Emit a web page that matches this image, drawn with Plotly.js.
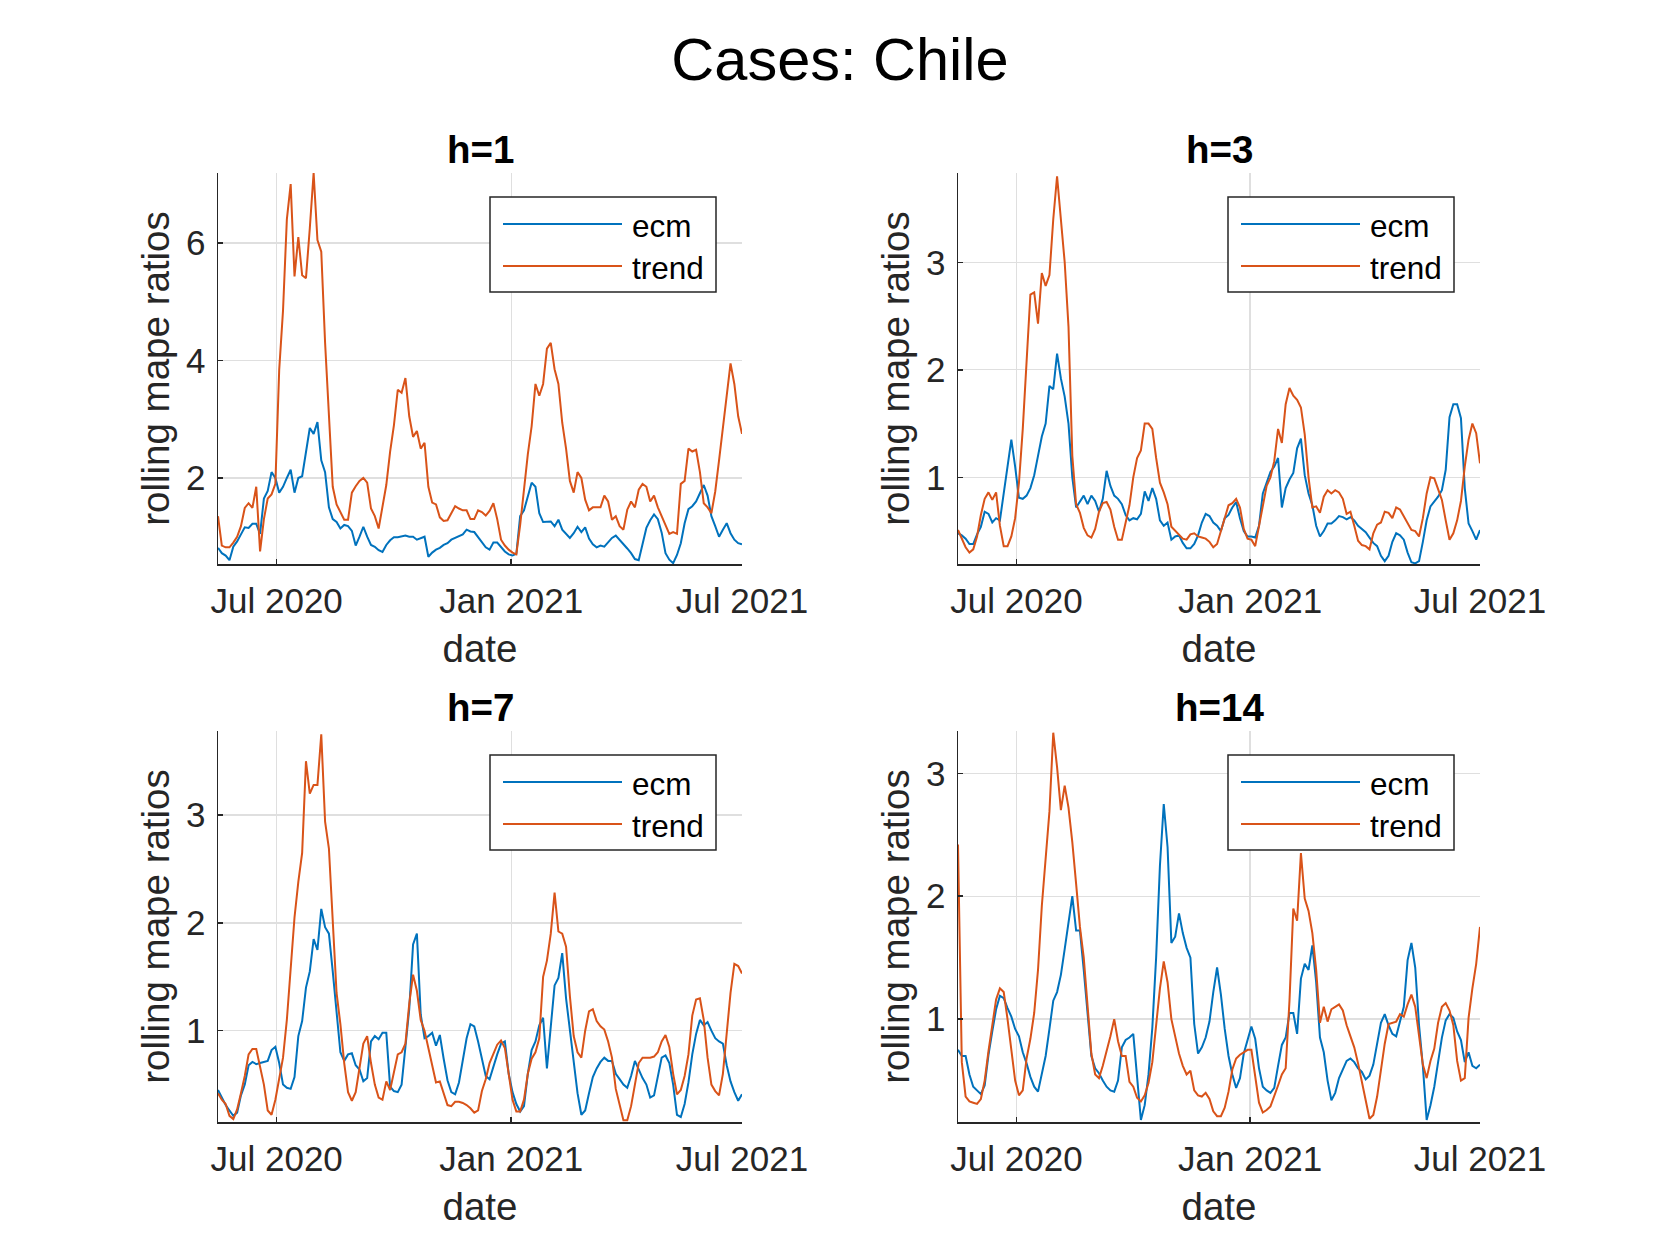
<!DOCTYPE html>
<html>
<head>
<meta charset="utf-8">
<script src="https://cdn.plot.ly/plotly-3.0.1.min.js"></script>
<style>
  html, body { margin: 0; padding: 0; background: #fff; }
  #chart { width: 1680px; height: 1260px; }
</style>
</head>
<body>
<div id="chart"></div>
<script>
// rolling mape ratios, one value every 3 days from 16 May 2020
const horizons = ['h=1', 'h=3', 'h=7', 'h=14'];
const seriesNames = ['ecm', 'trend'];
const dateTicks = ['2020-07-01', '2021-01-01', '2021-07-01'];
const dateTickLabels = ['Jul 2020', 'Jan 2021', 'Jul 2021'];

const ecm1 = [
  0.81, 0.72, 0.68, 0.60, 0.83, 0.92, 1.04, 1.16, 1.15, 1.22,
  1.22, 1.05, 1.65, 1.78, 2.10, 2.00, 1.75, 1.85, 2.00, 2.14,
  1.75, 2.00, 2.03, 2.48, 2.85, 2.75, 2.95, 2.30, 2.10, 1.50,
  1.30, 1.25, 1.14, 1.20, 1.18, 1.10, 0.85, 1.00, 1.17, 1.00,
  0.86, 0.83, 0.77, 0.74, 0.86, 0.94, 0.99, 0.99, 1.00, 1.02,
  1.00, 1.00, 0.95, 0.98, 1.00, 0.66, 0.73, 0.78, 0.81, 0.86,
  0.89, 0.95, 0.98, 1.00, 1.04, 1.12, 1.09, 1.08, 0.99, 0.92,
  0.82, 0.78, 0.90, 0.90, 0.82, 0.75, 0.70, 0.68, 0.71, 1.35,
  1.45, 1.70, 1.92, 1.85, 1.40, 1.25, 1.26, 1.26, 1.18, 1.29,
  1.12, 1.04, 0.98, 1.06, 1.17, 1.08, 1.16, 0.97, 0.87, 0.82,
  0.85, 0.83, 0.90, 0.98, 1.02, 0.95, 0.88, 0.80, 0.72, 0.62,
  0.60, 0.85, 1.15, 1.28, 1.38, 1.30, 1.07, 0.72, 0.61, 0.55,
  0.69, 0.89, 1.23, 1.47, 1.52, 1.60, 1.75, 1.88, 1.70, 1.35,
  1.18, 1.00, 1.12, 1.23, 1.06, 0.95, 0.89, 0.87
];
const trend1 = [
  1.35, 0.85, 0.82, 0.82, 0.90, 1.00, 1.18, 1.49, 1.57, 1.49,
  1.85, 0.75, 1.30, 1.65, 1.72, 1.90, 3.84, 4.85, 6.40, 7.00,
  5.43, 6.10, 5.45, 5.40, 6.25, 7.19, 6.05, 5.85, 4.30, 3.00,
  1.85, 1.55, 1.42, 1.29, 1.29, 1.75, 1.86, 1.95, 2.00, 1.92,
  1.48, 1.35, 1.14, 1.49, 1.88, 2.45, 2.90, 3.50, 3.45, 3.70,
  3.05, 2.70, 2.80, 2.50, 2.60, 1.85, 1.58, 1.55, 1.33, 1.27,
  1.28, 1.40, 1.52, 1.48, 1.45, 1.45, 1.30, 1.30, 1.45, 1.42,
  1.36, 1.44, 1.57, 1.30, 0.95, 0.85, 0.78, 0.73, 0.70, 1.20,
  1.85, 2.40, 2.88, 3.60, 3.40, 3.60, 4.20, 4.30, 3.85, 3.60,
  2.94, 2.50, 1.95, 1.75, 2.10, 2.00, 1.63, 1.45, 1.50, 1.50,
  1.50, 1.70, 1.60, 1.29, 1.35, 1.18, 1.12, 1.46, 1.60, 1.50,
  1.80, 1.90, 1.85, 1.60, 1.70, 1.50, 1.35, 1.20, 1.05, 1.08,
  1.05, 1.90, 1.95, 2.50, 2.45, 2.48, 2.10, 1.57, 1.50, 1.40,
  1.77, 2.30, 2.85, 3.40, 3.95, 3.60, 3.05, 2.75
];
const ecm3 = [
  0.48, 0.46, 0.43, 0.38, 0.38, 0.47, 0.54, 0.68, 0.66, 0.58,
  0.62, 0.60, 0.85, 1.08, 1.35, 1.10, 0.81, 0.80, 0.83, 0.90,
  1.02, 1.20, 1.38, 1.50, 1.85, 1.82, 2.15, 1.92, 1.75, 1.50,
  1.00, 0.72, 0.78, 0.83, 0.75, 0.83, 0.78, 0.68, 0.80, 1.06,
  0.92, 0.83, 0.80, 0.75, 0.65, 0.60, 0.62, 0.61, 0.66, 0.87,
  0.78, 0.90, 0.80, 0.60, 0.55, 0.58, 0.42, 0.45, 0.46, 0.39,
  0.34, 0.34, 0.38, 0.46, 0.58, 0.66, 0.64, 0.58, 0.55, 0.50,
  0.62, 0.65, 0.72, 0.77, 0.62, 0.50, 0.45, 0.45, 0.44, 0.55,
  0.85, 0.96, 1.05, 1.10, 1.18, 0.72, 0.90, 0.98, 1.04, 1.27,
  1.36, 1.02, 0.85, 0.74, 0.55, 0.45, 0.50, 0.57, 0.57, 0.60,
  0.64, 0.63, 0.61, 0.63, 0.60, 0.55, 0.52, 0.49, 0.44, 0.39,
  0.36, 0.27, 0.22, 0.27, 0.40, 0.48, 0.46, 0.42, 0.30, 0.21,
  0.20, 0.22, 0.40, 0.60, 0.73, 0.77, 0.82, 0.88, 1.07, 1.56,
  1.68, 1.68, 1.55, 0.90, 0.57, 0.50, 0.42, 0.51
];
const trend3 = [
  0.51, 0.43, 0.35, 0.30, 0.33, 0.45, 0.65, 0.80, 0.86, 0.79,
  0.86, 0.55, 0.36, 0.36, 0.45, 0.62, 0.95, 1.45, 2.05, 2.70,
  2.72, 2.43, 2.90, 2.78, 2.88, 3.40, 3.80, 3.40, 3.00, 2.40,
  1.20, 0.75, 0.67, 0.53, 0.46, 0.44, 0.52, 0.68, 0.76, 0.77,
  0.70, 0.54, 0.42, 0.42, 0.57, 0.74, 1.00, 1.18, 1.25, 1.50,
  1.50, 1.45, 1.18, 0.95, 0.86, 0.75, 0.54, 0.50, 0.47, 0.43,
  0.42, 0.47, 0.48, 0.45, 0.44, 0.43, 0.40, 0.35, 0.38, 0.50,
  0.61, 0.74, 0.76, 0.80, 0.72, 0.52, 0.43, 0.42, 0.36, 0.54,
  0.72, 0.92, 1.00, 1.15, 1.45, 1.32, 1.68, 1.83, 1.76, 1.72,
  1.65, 1.40, 1.00, 0.72, 0.73, 0.67, 0.82, 0.88, 0.85, 0.88,
  0.86, 0.80, 0.66, 0.68, 0.55, 0.41, 0.37, 0.36, 0.33, 0.48,
  0.56, 0.58, 0.68, 0.67, 0.62, 0.72, 0.70, 0.64, 0.58, 0.51,
  0.50, 0.45, 0.62, 0.85, 1.00, 0.99, 0.89, 0.79, 0.60, 0.42,
  0.48, 0.60, 0.78, 1.10, 1.35, 1.50, 1.41, 1.13
];
const ecm7 = [
  0.45, 0.38, 0.31, 0.26, 0.21, 0.24, 0.40, 0.50, 0.68, 0.71,
  0.69, 0.70, 0.71, 0.72, 0.82, 0.85, 0.70, 0.50, 0.47, 0.46,
  0.57, 0.95, 1.09, 1.40, 1.55, 1.85, 1.75, 2.13, 1.96, 1.90,
  1.55, 1.16, 0.80, 0.72, 0.78, 0.79, 0.68, 0.64, 0.53, 0.56,
  0.90, 0.95, 0.92, 0.98, 0.98, 0.48, 0.44, 0.43, 0.50, 0.85,
  1.20, 1.80, 1.90, 1.15, 0.93, 0.95, 0.98, 0.86, 0.96, 0.74,
  0.54, 0.43, 0.41, 0.52, 0.74, 0.93, 1.06, 1.04, 0.90, 0.75,
  0.58, 0.55, 0.67, 0.78, 0.88, 0.90, 0.60, 0.43, 0.32, 0.25,
  0.30, 0.60, 0.82, 0.90, 1.05, 1.12, 0.65, 1.05, 1.42, 1.49,
  1.72, 1.30, 1.00, 0.72, 0.42, 0.22, 0.26, 0.42, 0.57, 0.65,
  0.71, 0.75, 0.72, 0.72, 0.60, 0.55, 0.50, 0.47, 0.58, 0.72,
  0.64, 0.56, 0.50, 0.38, 0.40, 0.58, 0.75, 0.77, 0.70, 0.50,
  0.22, 0.20, 0.32, 0.52, 0.78, 0.97, 1.10, 1.05, 1.08, 1.00,
  0.93, 0.90, 0.88, 0.68, 0.53, 0.43, 0.35, 0.41
];
const trend7 = [
  0.42, 0.36, 0.32, 0.21, 0.18, 0.27, 0.42, 0.58, 0.78, 0.83,
  0.83, 0.68, 0.50, 0.26, 0.22, 0.36, 0.55, 0.75, 1.10, 1.60,
  2.05, 2.38, 2.65, 3.50, 3.20, 3.28, 3.28, 3.75, 2.94, 2.69,
  1.95, 1.35, 1.06, 0.70, 0.43, 0.35, 0.43, 0.66, 0.88, 0.95,
  0.70, 0.50, 0.38, 0.36, 0.53, 0.45, 0.60, 0.78, 0.80, 0.88,
  1.25, 1.52, 1.37, 1.10, 1.00, 0.85, 0.68, 0.52, 0.53, 0.43,
  0.31, 0.30, 0.34, 0.34, 0.33, 0.31, 0.28, 0.24, 0.26, 0.44,
  0.55, 0.70, 0.79, 0.87, 0.91, 0.84, 0.60, 0.36, 0.25, 0.25,
  0.36, 0.60, 0.74, 0.80, 0.93, 1.50, 1.65, 1.90, 2.28, 1.92,
  1.90, 1.78, 1.32, 0.95, 0.80, 0.75, 1.00, 1.18, 1.20, 1.09,
  1.04, 1.01, 0.90, 0.75, 0.46, 0.30, 0.17, 0.17, 0.30, 0.50,
  0.70, 0.75, 0.75, 0.75, 0.76, 0.80, 0.90, 0.96, 0.85, 0.60,
  0.41, 0.45, 0.58, 0.78, 1.14, 1.29, 1.30, 1.10, 0.75, 0.50,
  0.44, 0.40, 0.60, 0.98, 1.35, 1.62, 1.60, 1.53
];
const ecm14 = [
  0.75, 0.70, 0.70, 0.55, 0.45, 0.42, 0.39, 0.46, 0.71, 0.90,
  1.08, 1.19, 1.17, 1.09, 1.02, 0.92, 0.86, 0.73, 0.64, 0.53,
  0.45, 0.41, 0.55, 0.70, 0.92, 1.15, 1.22, 1.36, 1.57, 1.80,
  2.00, 1.72, 1.72, 1.40, 1.05, 0.70, 0.60, 0.56, 0.50, 0.45,
  0.42, 0.41, 0.50, 0.77, 0.83, 0.85, 0.88, 0.50, 0.18, 0.30,
  0.55, 0.93, 1.50, 2.25, 2.75, 2.40, 1.62, 1.67, 1.86, 1.70,
  1.58, 1.50, 0.96, 0.72, 0.77, 0.85, 0.98, 1.22, 1.42, 1.20,
  0.92, 0.70, 0.55, 0.44, 0.52, 0.72, 0.84, 0.94, 0.84, 0.60,
  0.45, 0.42, 0.40, 0.44, 0.62, 0.79, 0.85, 1.05, 1.05, 0.88,
  1.33, 1.45, 1.40, 1.60, 1.30, 0.85, 0.73, 0.50, 0.34, 0.40,
  0.52, 0.59, 0.66, 0.68, 0.65, 0.60, 0.57, 0.51, 0.54, 0.63,
  0.80, 0.97, 1.04, 0.95, 0.88, 0.86, 0.98, 1.10, 1.48, 1.62,
  1.42, 0.95, 0.62, 0.18, 0.30, 0.45, 0.65, 0.85, 0.99, 1.04,
  1.01, 0.90, 0.83, 0.65, 0.73, 0.62, 0.60, 0.63
];
const trend14 = [
  2.42, 0.65, 0.37, 0.33, 0.32, 0.31, 0.35, 0.50, 0.74, 0.95,
  1.16, 1.25, 1.22, 1.00, 0.75, 0.50, 0.38, 0.42, 0.68, 0.84,
  1.05, 1.40, 1.92, 2.34, 2.69, 3.33, 3.05, 2.70, 2.90, 2.72,
  2.44, 2.10, 1.75, 1.50, 1.10, 0.72, 0.55, 0.52, 0.62, 0.73,
  0.86, 1.00, 0.82, 0.70, 0.70, 0.49, 0.45, 0.36, 0.33, 0.38,
  0.48, 0.65, 0.95, 1.25, 1.47, 1.30, 1.00, 0.85, 0.72, 0.62,
  0.55, 0.58, 0.42, 0.38, 0.37, 0.40, 0.35, 0.25, 0.21, 0.21,
  0.28, 0.41, 0.59, 0.68, 0.71, 0.73, 0.75, 0.75, 0.55, 0.32,
  0.24, 0.26, 0.29, 0.37, 0.46, 0.55, 0.60, 1.15, 1.90, 1.80,
  2.35, 1.98, 1.88, 1.70, 1.40, 0.97, 1.10, 0.98, 1.08, 1.10,
  1.12, 1.07, 0.95, 0.86, 0.77, 0.64, 0.50, 0.34, 0.19, 0.22,
  0.37, 0.60, 0.80, 0.96, 0.97, 0.98, 1.04, 1.02, 1.12, 1.20,
  1.10, 0.85, 0.63, 0.52, 0.66, 0.76, 0.97, 1.10, 1.13, 1.07,
  0.95, 0.66, 0.50, 0.52, 1.01, 1.25, 1.45, 1.75
];

const ecmSeries = [ecm1, ecm3, ecm7, ecm14];
const trendSeries = [trend1, trend3, trend7, trend14];

// daily-spaced dates, every third day
const startDay = Date.UTC(2020, 4, 16);
const dates = ecm1.map((_, i) =>
  new Date(startDay + i * 3 * 86400000).toISOString().slice(0, 10));

const W = 1680, H = 1260;
const px = x => x / W;
const py = y => 1 - y / H;
const FONT = '"Liberation Sans", Arial, Helvetica, sans-serif';
const ECM_COLOR = '#0072BD';
const TREND_COLOR = '#D95319';
const AX_COLOR = '#262626';

// axes boxes in pixels: left, top, right, bottom
const boxes = [
  [218, 173, 742, 564],
  [958, 173, 1480, 564],
  [218, 731, 742, 1122],
  [958, 731, 1480, 1122]
];
const yRanges = [[0.536, 7.19], [0.194, 3.83], [0.153, 3.78], [0.163, 3.344]];
const yTicks = [[2, 4, 6], [1, 2, 3], [1, 2, 3], [1, 2, 3]];

const data = [];
const layout = {
  width: W,
  height: H,
  margin: { l: 0, r: 0, t: 0, b: 0 },
  paper_bgcolor: '#fff',
  plot_bgcolor: '#fff',
  font: { family: FONT, color: AX_COLOR },
  showlegend: false,
  title: {
    text: 'Cases: Chile',
    font: { family: FONT, size: 59.5, color: '#000' },
    x: 0.5, xanchor: 'center',
    y: py(59), yanchor: 'middle',
    xref: 'paper', yref: 'paper'
  },
  annotations: [],
  shapes: []
};

const axisCommon = {
  showline: true,
  linecolor: AX_COLOR,
  linewidth: 1.5,
  mirror: false,
  ticks: 'inside',
  ticklen: 5,
  tickwidth: 1.5,
  tickcolor: AX_COLOR,
  showgrid: true,
  gridcolor: '#dfdfdf',
  gridwidth: 1.3,
  zeroline: false,
  automargin: false,
  fixedrange: true,
  tickfont: { family: FONT, size: 35, color: AX_COLOR }
};

horizons.forEach((h, i) => {
  const suffix = i === 0 ? '' : String(i + 1);
  const [l, t, r, b] = boxes[i];

  data.push({
    x: dates, y: ecmSeries[i], type: 'scatter', mode: 'lines', name: seriesNames[0],
    xaxis: 'x' + suffix, yaxis: 'y' + suffix,
    line: { color: ECM_COLOR, width: 2 }
  });
  data.push({
    x: dates, y: trendSeries[i], type: 'scatter', mode: 'lines', name: seriesNames[1],
    xaxis: 'x' + suffix, yaxis: 'y' + suffix,
    line: { color: TREND_COLOR, width: 2 }
  });

  layout['xaxis' + suffix] = Object.assign({}, axisCommon, {
    type: 'date',
    domain: [px(l), px(r)],
    anchor: 'y' + suffix,
    range: ['2020-05-16', '2021-07-01'],
    tickvals: dateTicks,
    ticktext: dateTickLabels,
    ticklabelstandoff: 5,
    title: { text: 'date', font: { family: FONT, size: 38.5, color: AX_COLOR }, standoff: 16 }
  });
  layout['yaxis' + suffix] = Object.assign({}, axisCommon, {
    domain: [py(b), py(t)],
    anchor: 'x' + suffix,
    range: yRanges[i],
    tickvals: yTicks[i],
    ticklabelstandoff: 4,
    title: { text: 'rolling mape ratios', font: { family: FONT, size: 38.5, color: AX_COLOR }, standoff: 4 }
  });

  // subplot title
  layout.annotations.push({
    text: '<b>' + h + '</b>',
    xref: 'paper', yref: 'paper',
    x: px((l + r) / 2), y: py(t - 24),
    xanchor: 'center', yanchor: 'middle',
    showarrow: false,
    font: { family: FONT, size: 38.5, color: '#000' }
  });

  // legend box in the top right corner of each axes
  layout.shapes.push({
    type: 'rect', xref: 'paper', yref: 'paper', layer: 'above',
    x0: px(r - 252), x1: px(r - 26), y0: py(t + 24), y1: py(t + 119),
    line: { color: AX_COLOR, width: 1.5 }, fillcolor: '#fff'
  });
  [[ECM_COLOR, 51, seriesNames[0]], [TREND_COLOR, 93, seriesNames[1]]].forEach(([color, dy, name]) => {
    layout.shapes.push({
      type: 'line', xref: 'paper', yref: 'paper', layer: 'above',
      x0: px(r - 239), x1: px(r - 120), y0: py(t + dy), y1: py(t + dy),
      line: { color: color, width: 2 }
    });
    layout.annotations.push({
      text: name,
      xref: 'paper', yref: 'paper',
      x: px(r - 112), y: py(t + dy + 2),
      xanchor: 'left', yanchor: 'middle',
      showarrow: false,
      font: { family: FONT, size: 31.5, color: '#000' }
    });
  });
});

Plotly.newPlot('chart', data, layout, { displayModeBar: false, staticPlot: true });
</script>
</body>
</html>
